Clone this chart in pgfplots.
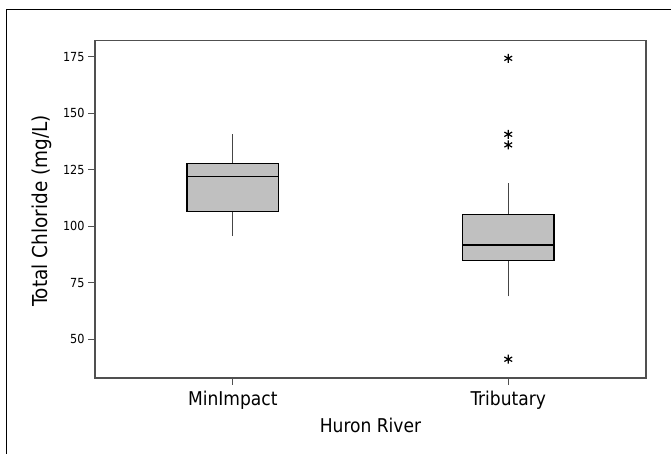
\documentclass[border=0pt]{standalone}
\usepackage{pgfplots}
\pgfplotsset{compat=1.18}
\usepackage{fontspec}
\setmainfont{DejaVu Sans Condensed}
\definecolor{boxgray}{HTML}{C0C0C0}
\definecolor{axgray}{HTML}{505050}
\definecolor{whgray}{HTML}{454545}
\begin{document}
\begin{tikzpicture}
\useasboundingbox (0pt,0pt) rectangle (671pt,454pt);
\begin{axis}[
  at={(95pt,76pt)}, anchor=south west,
  scale only axis, width=551pt, height=337.3pt,
  xmin=-0.5, xmax=1.5, ymin=32.9, ymax=182.1,
  xtick={0,1}, xticklabels={MinImpact,Tributary},
  ytick={50,75,100,125,150,175},
  xtick pos=bottom, ytick pos=left,
  tick align=outside, major tick length=7pt,
  major tick style={draw=axgray, line width=0.9pt},
  axis line style={draw=axgray, line width=1.5pt},
  /pgf/number format/assume math mode=true,
  yticklabel style={font=\fontsize{12.5}{14}\selectfont},
  xticklabel style={font=\fontsize{19}{22}\selectfont, yshift=-3pt},
  every axis y label/.style={at={(axis description cs:-0.0871,0.495)}, rotate=90, anchor=base, font=\fontsize{20.5}{24}\selectfont},
  every axis x label/.style={at={(axis description cs:0.5,-0.163)}, anchor=base, font=\fontsize{19}{22}\selectfont},
  ylabel={Total Chloride (mg/L)},
  xlabel={Huron River},
]
% MinImpact: lower whisker 95.7, Q1 106.7, median 122.1, Q3 127.7, upper whisker 140.8
\addplot[draw=whgray, line width=1.4pt] coordinates {(0,127.7) (0,140.8)};
\addplot[draw=whgray, line width=1.4pt] coordinates {(0,95.7) (0,106.7)};
\addplot[draw=black, fill=boxgray, line width=1.3pt] coordinates {(-0.1665,106.7) (0.1665,106.7) (0.1665,127.7) (-0.1665,127.7)} -- cycle;
\addplot[draw=black, line width=1.3pt] coordinates {(-0.1665,122.1) (0.1665,122.1)};
% Tributary: lower whisker 69.0, Q1 85.0, median 91.7, Q3 105.1, upper whisker 119.1
\addplot[draw=whgray, line width=1.4pt] coordinates {(1,105.1) (1,119.1)};
\addplot[draw=whgray, line width=1.4pt] coordinates {(1,69.0) (1,85.0)};
\addplot[draw=black, fill=boxgray, line width=1.3pt] coordinates {(0.8335,85.0) (1.1665,85.0) (1.1665,105.1) (0.8335,105.1)} -- cycle;
\addplot[draw=black, line width=1.3pt] coordinates {(0.8335,91.7) (1.1665,91.7)};
% outliers
\addplot[only marks, mark=asterisk, mark size=4.5pt, mark options={black, line width=1.2pt}]
  coordinates {(1,174.3) (1,140.7) (1,136.0) (1,41.2)};
\end{axis}
\draw[black, line width=1pt] (6pt,0pt) -- (6pt,444.7pt) -- (671pt,444.7pt);
\end{tikzpicture}
\end{document}
